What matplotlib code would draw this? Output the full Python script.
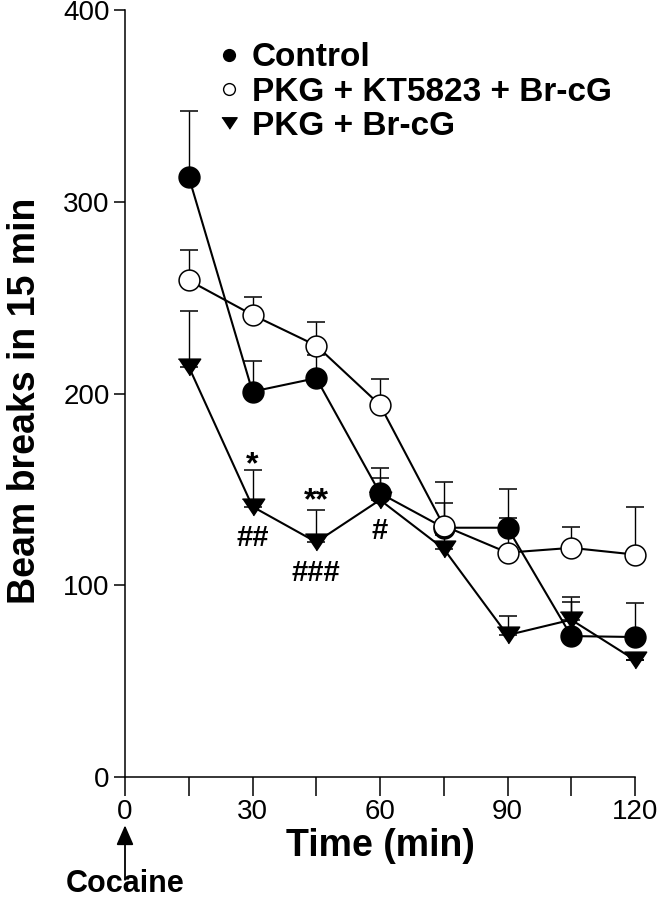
import numpy as np
import matplotlib

matplotlib.use("Agg")
import matplotlib.pyplot as plt
from matplotlib.lines import Line2D

plt.rcParams["font.family"] = ["Liberation Sans", "DejaVu Sans"]

# data (mean and top of SEM bar)
time_min = [15, 30, 45, 60, 75, 90, 105, 120]
control = [313, 201, 208, 148, 130, 130, 73.5, 73]
control_top = [347.5, 217, 220, 161, 143, 150, 94, 91]
kt5823 = [259, 241, 225, 194, 131, 117, 119.5, 116]
kt5823_top = [275, 250.5, 237.5, 207.5, 154, 135, 130.5, 141]
brcg = [214, 141, 122.5, 144.5, 119, 74, 82, 61]
brcg_top = [243, 160, 139, 156, 126, 84, 91.5, 61]

labels = ["Control", "PKG + KT5823 + Br-cG", "PKG + Br-cG"]
sig_marks = [(30, "*", "##"), (45, "**", "###"), (60, "", "#")]

tri = [(-1, 0.75), (1, 0.75), (0, -0.75)]

fig = plt.figure(figsize=(6.62, 9.0), dpi=100)
ax = fig.add_axes([125 / 662, 123 / 900, 510 / 662, 767 / 900])

series = [
    (control, control_top, "o", "black", 3),
    (brcg, brcg_top, tri, "black", 3.5),
    (kt5823, kt5823_top, "o", "white", 4),
]
for vals, tops, mk, face, z in series:
    vals = np.array(vals)
    upper = np.array(tops) - vals
    ms = 15 if mk == "o" else 16
    ax.errorbar(time_min, vals, yerr=[np.zeros_like(upper), upper], fmt="-",
                marker=mk, ms=ms, mfc=face, mec="black", mew=1.1, color="black",
                lw=1.5, elinewidth=1.0, capsize=6.5, capthick=1.0, zorder=z,
                clip_on=False)

for t, above, below in sig_marks:
    y = brcg[time_min.index(t)]
    if above:
        ax.annotate(above, (t, y), xytext=(0, 24), textcoords="offset points",
                    ha="center", va="baseline", fontsize=23, fontweight="bold")
    ax.annotate(below, (t, y), xytext=(0, -28), textcoords="offset points",
                ha="center", va="baseline", fontsize=21, fontweight="bold")

handles = [
    Line2D([], [], ls="none", marker="o", ms=8.5, mfc="black", mec="black"),
    Line2D([], [], ls="none", marker="o", ms=8.5, mfc="white", mec="black", mew=1.0),
    Line2D([], [], ls="none", marker=tri, ms=11, mfc="black", mec="black"),
]
ax.legend(handles, labels, loc="upper left", bbox_to_anchor=(0.172, 0.958),
          frameon=False, borderpad=0, borderaxespad=0, handlelength=0.95,
          handletextpad=0.22, labelspacing=0.1,
          prop={"family": "Liberation Sans", "weight": "bold", "size": 24})

ax.set_xlim(0, 120)
ax.set_ylim(0, 400)
ax.set_xticks([0, 30, 60, 90, 120])
ax.set_xticks([15, 45, 75, 105], minor=True)
ax.set_yticks([0, 100, 200, 300, 400])
ax.tick_params(axis="x", which="both", length=14, width=1.1, direction="out",
               labelsize=20, pad=2)
ax.tick_params(axis="y", length=8, width=1.1, direction="out", labelsize=20, pad=3)
for side in ["top", "right"]:
    ax.spines[side].set_visible(False)
for side in ["left", "bottom"]:
    ax.spines[side].set_linewidth(1.1)

ax.set_xlabel("Time (min)", fontsize=27, fontweight="bold", labelpad=2)
ax.set_ylabel("Beam breaks in 15 min", fontsize=27, fontweight="bold")
ax.yaxis.set_label_coords(-0.16, 0.49)

ax.annotate("", xy=(0, -0.063), xytext=(0, -0.134),
            xycoords=("data", "axes fraction"), textcoords=("data", "axes fraction"),
            arrowprops=dict(arrowstyle="-|>,head_length=0.8,head_width=0.35",
                            lw=1.3, color="black", mutation_scale=15,
                            shrinkA=0, shrinkB=0),
            annotation_clip=False)
ax.text(0, -0.1585, "Cocaine", transform=ax.get_xaxis_transform(), ha="center",
        va="bottom", fontsize=22, fontweight="bold", clip_on=False)

fig.savefig("out.png", dpi=100)
